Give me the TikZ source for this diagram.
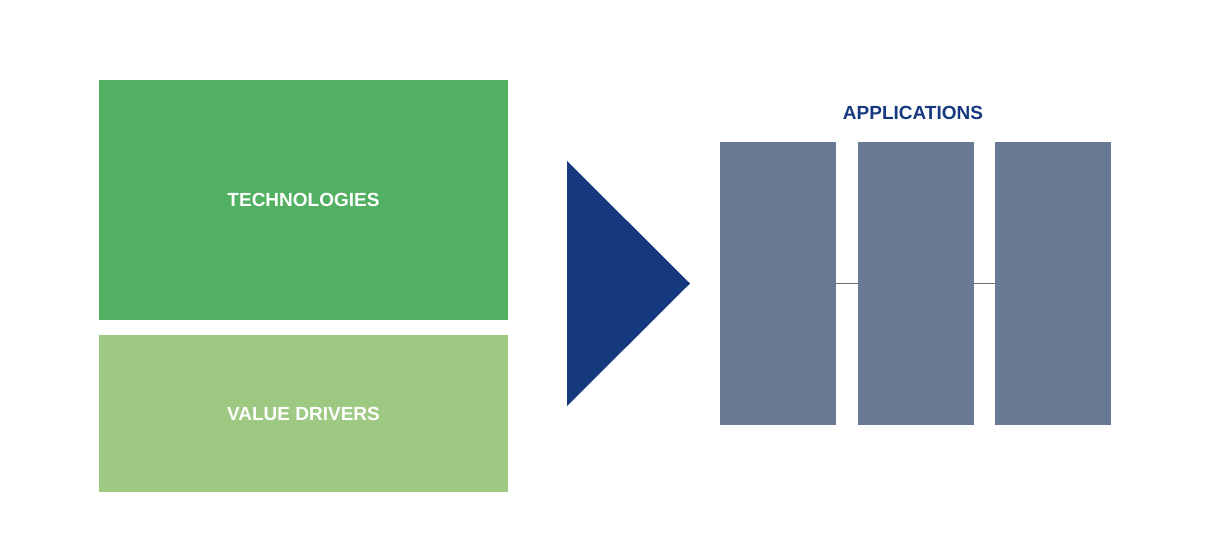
\documentclass[tikz,border=0pt]{standalone}
\usepackage{fontspec}
\setmainfont{Liberation Sans}
\definecolor{techgreen}{HTML}{52B062}
\definecolor{valuegreen}{HTML}{9EC982}
\definecolor{navy}{HTML}{15387E}
\definecolor{slate}{HTML}{687A93}
\definecolor{linkgray}{HTML}{6E6E6E}
\tikzset{
    block/.style={inner sep=0pt, text=white, font=\fontsize{19}{22}\selectfont\bfseries},
    column/.style={fill=slate, minimum width=116pt, minimum height=283pt, inner sep=0pt}
}

\begin{document}
\begin{tikzpicture}[x=1pt,y=-1pt]
    \useasboundingbox (0,0) rectangle (1207,559);

    % left blocks
    \node[block, fill=techgreen, minimum width=409pt, minimum height=240pt] (tech) at (303.5,200) {TECHNOLOGIES};
    \node[block, fill=valuegreen, minimum width=409pt, minimum height=157pt] (value) at (303.5,413.5) {VALUE DRIVERS};

    % arrow
    \fill[navy] (567,161) -- (690,283.5) -- (567,406) -- cycle;

    % applications
    \node[column] (app1) at (778,283.5) {};
    \node[column] (app2) at (916,283.5) {};
    \node[column] (app3) at (1053,283.5) {};
    \node[text=navy, font=\fontsize{19}{22}\selectfont\bfseries] (apps) at (913,113) {APPLICATIONS};

    \draw[linkgray, line width=0.8pt] (app1.east) -- (app2.west);
    \draw[linkgray, line width=0.8pt] (app2.east) -- (app3.west);
\end{tikzpicture}
\end{document}
